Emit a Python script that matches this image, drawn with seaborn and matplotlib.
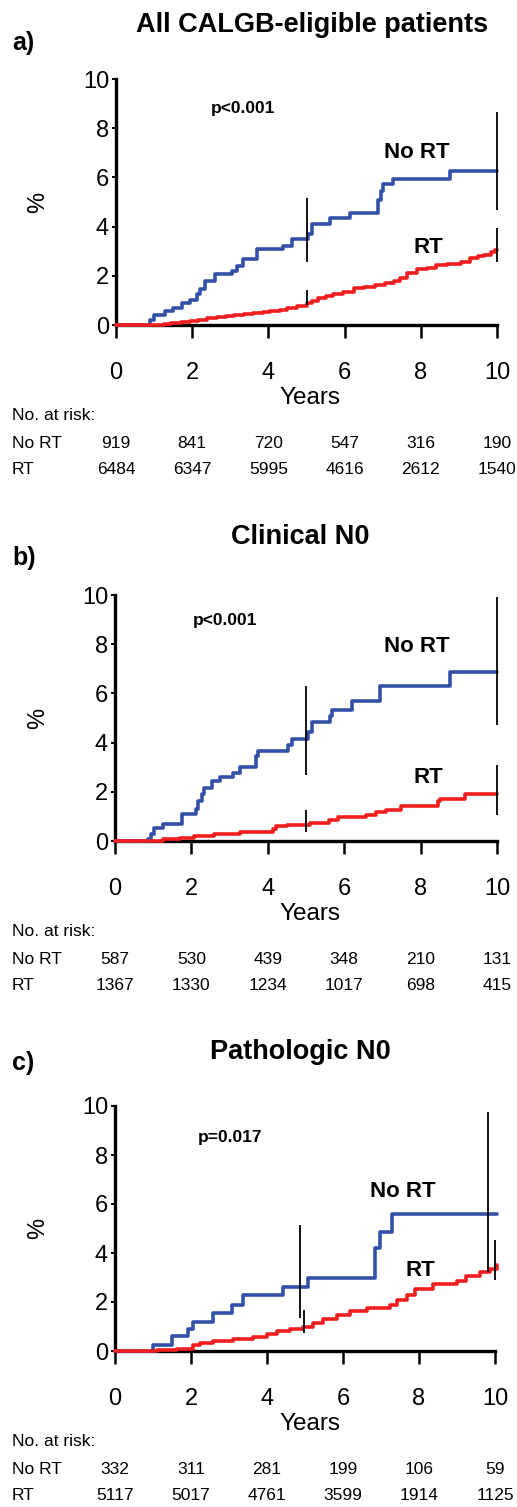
import numpy as np
import pandas as pd
import matplotlib
matplotlib.use("Agg")
import matplotlib.pyplot as plt
import seaborn as sns
from matplotlib.transforms import blended_transform_factory

# ---------------- data ----------------
year_ticks = [0, 2, 4, 6, 8, 10]
pct_ticks = [0, 2, 4, 6, 8, 10]

# Panel a
a_title = "All CALGB-eligible patients"
a_p = "p<0.001"
a_nort_t = [0, 0.89, 1.0, 1.29, 1.5, 1.72, 1.94, 2.12, 2.2, 2.33, 2.6, 3.04, 3.17, 3.34, 3.69,
            4.39, 4.61, 5.05, 5.14, 5.62, 6.14, 6.88, 6.95, 7.02, 7.28, 8.77, 10.0]
a_nort_y = [0, 0.2, 0.41, 0.57, 0.68, 0.88, 1.0, 1.27, 1.47, 1.8, 2.07, 2.2, 2.4, 2.67, 3.07,
            3.2, 3.5, 3.7, 4.09, 4.36, 4.56, 5.1, 5.45, 5.72, 5.95, 6.27, 6.27]
a_rt_t = [0, 1.25, 1.45, 1.7, 1.95, 2.15, 2.4, 2.65, 2.9, 3.1, 3.35, 3.6, 3.85, 4.05, 4.3, 4.5,
          4.75, 5.0, 5.15, 5.3, 5.5, 5.7, 5.95, 6.25, 6.5, 6.8, 7.05, 7.3, 7.45, 7.65, 7.9, 8.15,
          8.4, 8.7, 9.05, 9.3, 9.5, 9.65, 9.85, 9.95, 10.0]
a_rt_y = [0, 0.03, 0.07, 0.12, 0.17, 0.22, 0.28, 0.33, 0.37, 0.41, 0.44, 0.47, 0.52, 0.57, 0.63,
          0.7, 0.78, 0.88, 0.98, 1.08, 1.16, 1.24, 1.36, 1.49, 1.55, 1.63, 1.7, 1.79, 1.92, 2.1,
          2.27, 2.33, 2.43, 2.5, 2.57, 2.74, 2.8, 2.85, 2.95, 3.05, 3.05]
a_nort_ci_x = [5.0, 10.0]
a_nort_ci_lo = [2.56, 4.67]
a_nort_ci_hi = [5.16, 8.66]
a_rt_ci_x = [5.0, 10.0]
a_rt_ci_lo = [0.81, 2.56]
a_rt_ci_hi = [1.42, 3.94]
a_risk_nort = [919, 841, 720, 547, 316, 190]
a_risk_rt = [6484, 6347, 5995, 4616, 2612, 1540]

# Panel b
b_title = "Clinical N0"
b_p = "p<0.001"
b_nort_t = [0, 0.87, 0.95, 1.02, 1.26, 1.75, 2.12, 2.18, 2.27, 2.33, 2.53, 2.75, 3.1, 3.27,
            3.7, 3.75, 4.54, 4.63, 5.06, 5.15, 5.63, 5.68, 6.2, 6.94, 8.77, 10.0]
b_nort_y = [0, 0.1, 0.3, 0.54, 0.68, 1.08, 1.3, 1.63, 1.9, 2.17, 2.44, 2.62, 2.78, 3.0,
            3.45, 3.65, 3.9, 4.15, 4.45, 4.85, 5.1, 5.33, 5.69, 6.32, 6.86, 6.86]
b_rt_t = [0, 1.26, 1.7, 2.06, 2.58, 3.27, 4.14, 4.22, 4.5, 5.1, 5.6, 5.84, 6.58, 6.84, 7.1,
          7.5, 8.46, 8.52, 9.16, 10.0]
b_rt_y = [0, 0.08, 0.13, 0.2, 0.3, 0.38, 0.47, 0.6, 0.66, 0.72, 0.86, 0.96, 1.05, 1.18, 1.28,
          1.44, 1.62, 1.7, 1.9, 1.9]
b_nort_ci_x = [5.0, 10.0]
b_nort_ci_lo = [2.68, 4.7]
b_nort_ci_hi = [6.3, 9.9]
b_rt_ci_x = [5.0, 10.0]
b_rt_ci_lo = [0.35, 1.06]
b_rt_ci_hi = [1.25, 3.1]
b_risk_nort = [587, 530, 439, 348, 210, 131]
b_risk_rt = [1367, 1330, 1234, 1017, 698, 415]

# Panel c
c_title = "Pathologic N0"
c_p = "p=0.017"
c_nort_t = [0, 1.01, 1.49, 1.93, 2.06, 2.59, 3.07, 3.38, 4.43, 5.09, 6.84, 6.97, 7.28, 10.05]
c_nort_y = [0, 0.25, 0.6, 0.9, 1.2, 1.55, 1.88, 2.27, 2.6, 2.97, 4.2, 4.85, 5.58, 5.58]
c_rt_t = [0, 1.1, 1.62, 2.06, 2.24, 2.59, 3.11, 3.64, 3.99, 4.25, 4.6, 4.96, 5.22, 5.48, 5.83,
          6.18, 6.62, 7.24, 7.41, 7.68, 7.89, 8.38, 8.99, 9.25, 9.6, 9.87, 10.05]
c_rt_y = [0, 0.03, 0.1, 0.25, 0.32, 0.4, 0.49, 0.59, 0.69, 0.8, 0.9, 1.0, 1.15, 1.3, 1.45,
          1.62, 1.77, 1.88, 2.08, 2.27, 2.52, 2.72, 2.85, 3.05, 3.22, 3.36, 3.5]
c_nort_ci_x = [4.87, 9.82]
c_nort_ci_lo = [1.35, 3.22]
c_nort_ci_hi = [5.14, 9.76]
c_rt_ci_x = [4.97, 10.0]
c_rt_ci_lo = [0.73, 2.9]
c_rt_ci_hi = [1.67, 4.53]
c_risk_nort = [332, 311, 281, 199, 106, 59]
c_risk_rt = [5117, 5017, 4761, 3599, 1914, 1125]

group_names = ["No RT", "RT"]
panel_letters = ["a)", "b)", "c)"]

# ---------------- style ----------------
sns.set_theme(style="white")
plt.rcParams["font.family"] = ["Liberation Sans", "DejaVu Sans"]
plt.rcParams["text.color"] = "black"
plt.rcParams["axes.labelcolor"] = "black"
plt.rcParams["xtick.color"] = "black"
plt.rcParams["ytick.color"] = "black"

BLUE = "#3350A8"
RED = "#F01E1E"

W, H = 517, 1507
fig = plt.figure(figsize=(W / 100, H / 100), dpi=100)
fig.patch.set_facecolor("white")


def fy(py):
    return 1 - py / H


def fx(px):
    return px / W


panels = [
    dict(title=a_title, p=a_p, nt=a_nort_t, ny=a_nort_y, rt=a_rt_t, ry=a_rt_y,
         ncx=a_nort_ci_x, nlo=a_nort_ci_lo, nhi=a_nort_ci_hi,
         rcx=a_rt_ci_x, rlo=a_rt_ci_lo, rhi=a_rt_ci_hi,
         rn=a_risk_nort, rr=a_risk_rt,
         box=(116, 79, 497, 325), title_y=25, letter_y=43, title_x=312,
         p_xy=(3.33, 8.8), nolab=(7.9, 7.0), rtlab=(8.2, 3.15)),
    dict(title=b_title, p=b_p, nt=b_nort_t, ny=b_nort_y, rt=b_rt_t, ry=b_rt_y,
         ncx=b_nort_ci_x, nlo=b_nort_ci_lo, nhi=b_nort_ci_hi,
         rcx=b_rt_ci_x, rlo=b_rt_ci_lo, rhi=b_rt_ci_hi,
         rn=b_risk_nort, rr=b_risk_rt,
         box=(115, 595, 497, 841), title_y=537, letter_y=558, title_x=300,
         p_xy=(2.87, 8.95), nolab=(7.9, 7.9), rtlab=(8.2, 2.6)),
    dict(title=c_title, p=c_p, nt=c_nort_t, ny=c_nort_y, rt=c_rt_t, ry=c_rt_y,
         ncx=c_nort_ci_x, nlo=c_nort_ci_lo, nhi=c_nort_ci_hi,
         rcx=c_rt_ci_x, rlo=c_rt_ci_lo, rhi=c_rt_ci_hi,
         rn=c_risk_nort, rr=c_risk_rt,
         box=(115, 1106, 495, 1351), title_y=1052, letter_y=1063, title_x=300,
         p_xy=(3.03, 8.7), nolab=(7.58, 6.5), rtlab=(8.03, 3.3)),
]

for i, P in enumerate(panels):
    l, t, r, b = P["box"]
    ax = fig.add_axes([fx(l), fy(b), (r - l) / W, (b - t) / H])
    ax.set_facecolor("none")

    df_n = pd.DataFrame({"Years": P["nt"], "pct": P["ny"]})
    df_r = pd.DataFrame({"Years": P["rt"], "pct": P["ry"]})
    sns.lineplot(data=df_n, x="Years", y="pct", ax=ax, color=BLUE, lw=2.6,
                 drawstyle="steps-post", estimator=None, sort=False, clip_on=False, zorder=4)
    sns.lineplot(data=df_r, x="Years", y="pct", ax=ax, color=RED, lw=2.6,
                 drawstyle="steps-post", estimator=None, sort=False, clip_on=False, zorder=5)

    ax.vlines(P["ncx"], P["nlo"], P["nhi"], color="black", lw=1.3, zorder=6, clip_on=False)
    ax.vlines(P["rcx"], P["rlo"], P["rhi"], color="black", lw=1.3, zorder=6, clip_on=False)

    ax.set_xlim(0, 10)
    ax.set_ylim(0, 10)
    ax.set_xticks(year_ticks)
    ax.set_yticks(pct_ticks)
    ax.set_xlabel("")
    ax.set_ylabel("")
    for s in ["top", "right"]:
        ax.spines[s].set_visible(False)
    for s in ["left", "bottom"]:
        ax.spines[s].set_linewidth(2.4)
        ax.spines[s].set_color("black")
        ax.spines[s].set_zorder(3)
    ax.tick_params(axis="x", direction="out", length=9.5, width=1.8, pad=17,
                   labelsize=17, colors="black", bottom=True)
    ax.tick_params(axis="y", direction="out", length=3, width=1.4, pad=2,
                   labelsize=17, colors="black", left=True)

    ax.text(*P["p_xy"], P["p"], ha="center", va="center", fontsize=12.5,
            fontweight="bold", color="black")
    ax.text(*P["nolab"], group_names[0], ha="center", va="center", fontsize=16,
            fontweight="bold", color="black")
    ax.text(*P["rtlab"], group_names[1], ha="center", va="center", fontsize=16,
            fontweight="bold", color="black")

    # titles / labels
    fig.text(fx(P["title_x"]), fy(P["title_y"]), P["title"], ha="center", va="center",
             fontsize=19.5, fontweight="bold", color="black")
    fig.text(fx(12), fy(P["letter_y"]), panel_letters[i], ha="left", va="center",
             fontsize=18, fontweight="bold", color="black")
    fig.text(fx(38), fy((t + b) / 2), "%", ha="center", va="center", fontsize=17,
             rotation=90, color="black")
    fig.text(fx(310), fy(b + 73), "Years", ha="center", va="center", fontsize=17.5,
             color="black")

    # number at risk
    fig.text(fx(12), fy(b + 91), "No. at risk:", ha="left", va="center", fontsize=12.5,
             color="black")
    fig.text(fx(12), fy(b + 118), group_names[0], ha="left", va="center", fontsize=12.5,
             color="black")
    fig.text(fx(12), fy(b + 145), group_names[1], ha="left", va="center", fontsize=12.5,
             color="black")
    tr = blended_transform_factory(ax.transData, fig.transFigure)
    for xv, v1, v2 in zip(year_ticks, P["rn"], P["rr"]):
        ax.text(xv, fy(b + 118), str(v1), transform=tr, ha="center", va="center",
                fontsize=12.5, clip_on=False, color="black")
        ax.text(xv, fy(b + 145), str(v2), transform=tr, ha="center", va="center",
                fontsize=12.5, clip_on=False, color="black")

fig.savefig("out.png", dpi=100, facecolor="white")
